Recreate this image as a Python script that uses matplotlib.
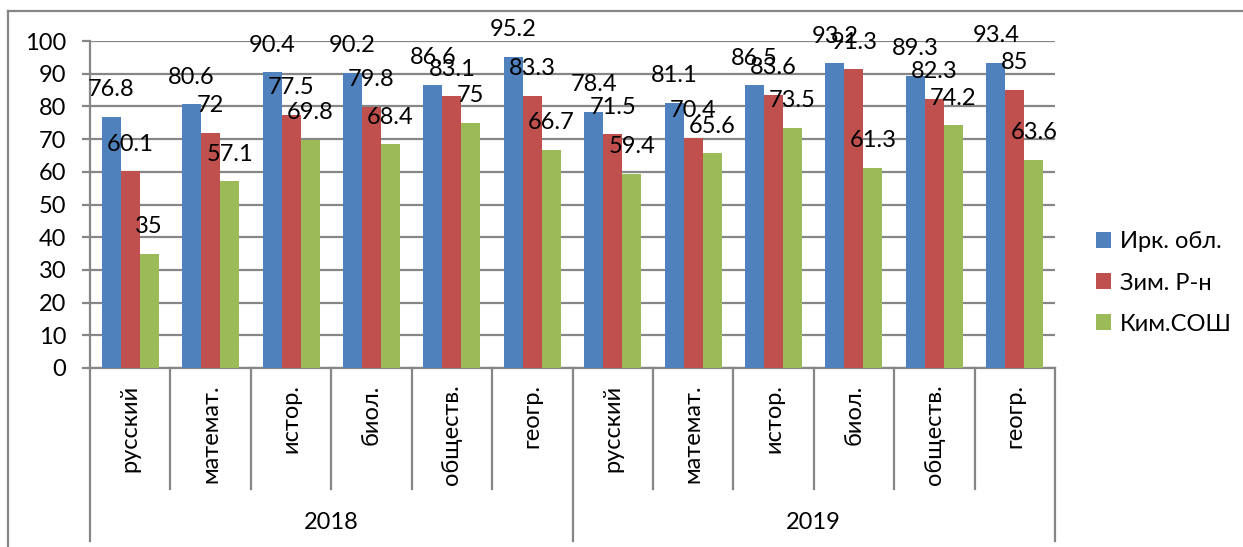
import numpy as np
import matplotlib
matplotlib.use('Agg')
import matplotlib.pyplot as plt
from matplotlib.lines import Line2D

plt.rcParams['font.family'] = ['Lato', 'Open Sans', 'DejaVu Sans']

# subjects, two years
subjects = ['русский', 'математ.', 'истор.', 'биол.', 'обществ.', 'геогр.']
years = ['2018', '2019']
series_names = ['Ирк. обл.', 'Зим. Р-н', 'Ким.СОШ']

irk = [76.8, 80.6, 90.4, 90.2, 86.6, 95.2, 78.4, 81.1, 86.5, 93.2, 89.3, 93.4]
zim = [60.1, 72, 77.5, 79.8, 83.1, 83.3, 71.5, 70.4, 83.6, 91.3, 82.3, 85]
kim = [35, 57.1, 69.8, 68.4, 75, 66.7, 59.4, 65.6, 73.5, 61.3, 74.2, 63.6]

colors = ['#4F81BD', '#C0504D', '#9BBB59']
grid_c = '#868686'
fs = 17

W, H = 1243, 547
fig = plt.figure(figsize=(W / 100, H / 100), dpi=100)
ax = fig.add_axes([90 / W, 1 - 368 / H, (1055 - 90) / W, (368 - 41) / H])

labels = subjects * len(years)
x = np.arange(len(labels))
bw = 0.236
for i, (vals, c, name) in enumerate(zip([irk, zim, kim], colors, series_names)):
    pos = x + (i - 1) * bw
    ax.bar(pos, vals, bw, color=c, label=name, zorder=3)
    for px, v in zip(pos, vals):
        ax.annotate(f'{v:g}', (px, v), xytext=(0, 19.5), textcoords='offset points',
                    ha='center', va='center', fontsize=fs, zorder=5)

ax.set_xlim(-0.5, len(labels) - 0.5)
ax.set_ylim(0, 100)
ax.set_yticks(np.arange(0, 101, 10))
ax.yaxis.grid(True, color=grid_c, lw=1.6, zorder=0)
ax.tick_params(axis='y', length=6, width=1.6, color=grid_c, pad=11, labelsize=fs)
ax.tick_params(axis='x', length=0, labelbottom=False)
for s in ['top', 'right']:
    ax.spines[s].set_visible(False)
for s in ['left', 'bottom']:
    ax.spines[s].set_color(grid_c)
    ax.spines[s].set_linewidth(1.6)

# two-level category axis
tr = ax.get_xaxis_transform()
for k in range(len(labels) + 1):
    low = -0.529 if k % len(subjects) == 0 else -0.37
    ax.add_line(Line2D([k - 0.5, k - 0.5], [0, low], transform=tr, color=grid_c,
                       lw=1.6, clip_on=False))
for xi, lab in zip(x, labels):
    ax.text(xi, -0.05, lab, transform=tr, rotation=90, ha='center', va='top',
            fontsize=fs)
for j, yr in enumerate(years):
    cx = j * len(subjects) + (len(subjects) - 1) / 2
    ax.text(cx, -0.474, yr, transform=tr, ha='center', va='center', fontsize=fs)

fig.legend(loc='center left', bbox_to_anchor=(1096 / W, 1 - 283 / H), frameon=False,
           fontsize=fs, handlelength=0.65, handleheight=0.65, handletextpad=0.35,
           labelspacing=0.85, borderpad=0, borderaxespad=0)

# chart border
fig.add_artist(Line2D([8 / W, 8 / W], [0, 1 - 11 / H], color=grid_c, lw=1.6))
fig.add_artist(Line2D([8 / W, 1], [1 - 11 / H, 1 - 11 / H], color=grid_c, lw=1.6))

fig.savefig('out.png', dpi=100)
